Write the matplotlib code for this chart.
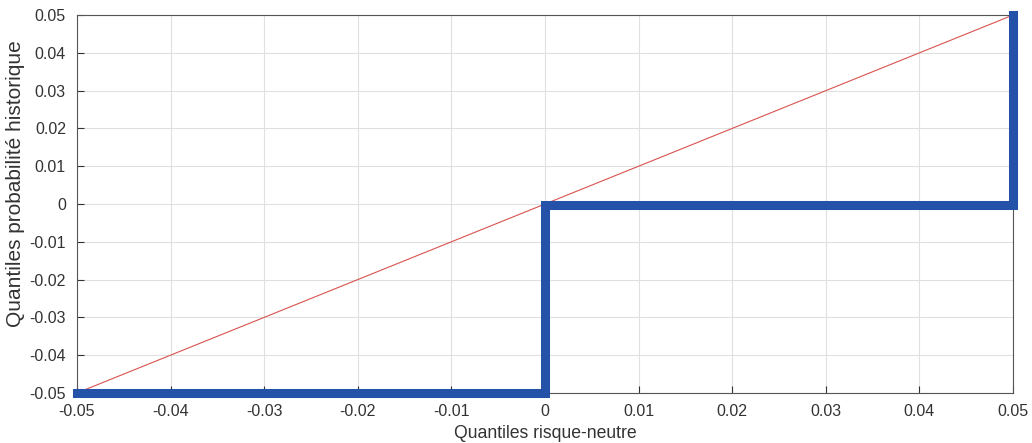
import numpy as np
import matplotlib.pyplot as plt

plt.rcParams['font.family'] = ['Liberation Sans', 'DejaVu Sans']

# reference line (diagonal)
ref_x = [-0.05, 0.05]
ref_y = [-0.05, 0.05]

# quantile step curve
q_rn = [-0.05, 0.0, 0.0, 0.05, 0.05]
q_hist = [-0.05, -0.05, -0.0003, -0.0003, 0.05]

ticks = np.round(np.arange(-0.05, 0.051, 0.01), 2)
tick_labels = ['-0.05', '-0.04', '-0.03', '-0.02', '-0.01', '0',
               '0.01', '0.02', '0.03', '0.04', '0.05']

fig = plt.figure(figsize=(10.32, 4.43), dpi=100)
ax = fig.add_axes([0.0746, 0.113, 0.907, 0.853])

ax.plot(ref_x, ref_y, color='#d9534f', lw=0.8, zorder=3)
ax.plot(q_rn, q_hist, color='#2352a8', lw=6.5, solid_joinstyle='miter',
        clip_on=False, zorder=4)

ax.set_xlim(-0.05, 0.05)
ax.set_ylim(-0.05, 0.05)
ax.set_xticks(ticks)
ax.set_xticklabels(tick_labels)
ax.set_yticks(ticks)
ax.set_yticklabels(tick_labels)
ax.grid(True, color='#e0e0e0', lw=0.8)
ax.set_axisbelow(True)
ax.tick_params(direction='in', length=5, color='#333333', labelsize=11.5,
               labelcolor='#333333')
ax.tick_params(axis='x', pad=8)
ax.tick_params(axis='y', pad=8)
for s in ax.spines.values():
    s.set_color('#555555')
    s.set_linewidth(0.8)

ax.set_xlabel('Quantiles risque-neutre', fontsize=12.7, color='#333333', labelpad=4)
ax.set_ylabel('Quantiles probabilité historique', fontsize=15, color='#333333')
ax.yaxis.set_label_coords(-0.056, 0.553)

plt.savefig('out.png', dpi=100)
